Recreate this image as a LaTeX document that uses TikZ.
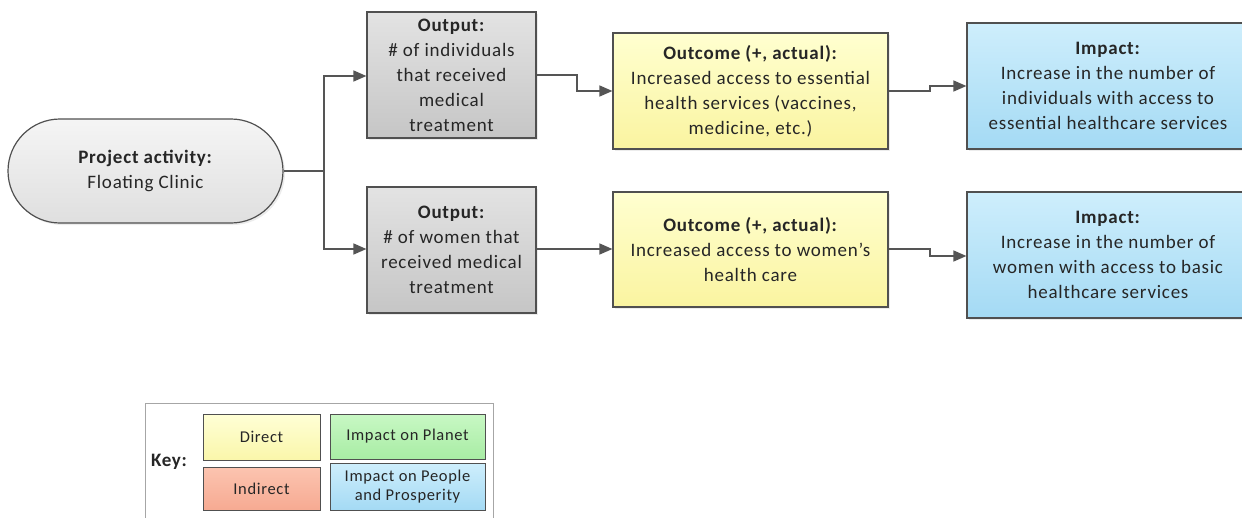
\documentclass[tikz,border=0pt]{standalone}
\usepackage{fontspec}
\setmainfont{Carlito}[LetterSpace=4]
\usetikzlibrary{arrows.meta,shadows}
\definecolor{linec}{HTML}{555555}
\definecolor{edgec}{HTML}{505050}
\tikzset{
  box/.style={draw=edgec, line width=1.2pt, align=center, inner sep=2pt,
    font=\fontsize{19}{25}\selectfont, text=black!85,
    drop shadow={opacity=0.15, shadow xshift=2pt, shadow yshift=-2pt}},
  graybox/.style={box, top color=gray!22, bottom color=gray!45, minimum width=169pt, minimum height=126pt},
  yellowbox/.style={box, top color={rgb,255:red,255;green,255;blue,208}, bottom color={rgb,255:red,250;green,244;blue,160}, minimum width=275pt, minimum height=116pt},
  bluebox/.style={box, top color={rgb,255:red,206;green,238;blue,252}, bottom color={rgb,255:red,164;green,218;blue,244}, minimum width=282pt, minimum height=126pt},
  pill/.style={box, rounded corners=52pt, top color=gray!8, bottom color=gray!25, minimum width=275pt, minimum height=104pt},
  conn/.style={draw=linec, line width=1.5pt, -{Triangle[length=13pt,width=11pt]}},
  plain/.style={draw=linec, line width=1.5pt},
  keybox/.style={draw=edgec, line width=1pt, align=center, font=\fontsize{16.5}{19}\selectfont, text=black!85},
}
\begin{document}
\begin{tikzpicture}[x=1pt,y=-1pt]
\useasboundingbox (0,0) rectangle (1242,517);
\clip (0,0) rectangle (1242,517);
% nodes
\node[pill] (act) at (145.5,171) {\textbf{Project activity:}\\Floating Clinic};
\node[graybox] (out1) at (451.5,75) {\textbf{Output:}\\\# of individuals\\that received\\medical\\treatment};
\node[graybox] (out2) at (451.5,250) {\textbf{Output:}\\\# of women that\\received medical\\treatment};
\node[yellowbox] (oc1) at (750.5,91) {\textbf{Outcome (+, actual):}\\Increased access to essential\\health services (vaccines,\\medicine, etc.)};
\node[yellowbox, minimum height=115pt] (oc2) at (750.5,249.5) {\textbf{Outcome (+, actual):}\\Increased access to women’s\\health care};
\node[bluebox] (im1) at (1108,86) {\textbf{Impact:}\\Increase in the number of\\individuals with access to\\essential healthcare services};
\node[bluebox] (im2) at (1108,255) {\textbf{Impact:}\\Increase in the number of\\women with access to basic\\healthcare services};
% connectors
\coordinate (br) at (324,171);
\draw[plain] (act.east) -- (br);
\draw[conn] (br) |- (out1.west |- 0,76);
\draw[conn] (br) |- (out2.west |- 0,249);
\draw[conn] (out1.east |- 0,75) -- (577,75) -- (577,91) -- (oc1.west);
\draw[conn] (out2.east |- 0,249) -- (oc2.west |- 0,249);
\draw[conn] (oc1.east) -- (930,91) -- (930,86) -- (im1.west);
\draw[conn] (oc2.east |- 0,249) -- (930,249) -- (930,256) -- (im2.west |- 0,256);
% key
\node[draw=gray!70, line width=1pt, minimum width=348pt, minimum height=130pt, anchor=north west, fill=white] (keyframe) at (145,403) {};
\node[font=\fontsize{19}{21}\selectfont\bfseries, text=black!85] (keylbl) at (169,462) {Key:};
\node[keybox, top color={rgb,255:red,255;green,255;blue,214}, bottom color={rgb,255:red,250;green,246;blue,170}, minimum width=117pt, minimum height=46pt] (kd) at (261.5,437) {Direct};
\node[keybox, top color={rgb,255:red,252;green,196;blue,176}, bottom color={rgb,255:red,246;green,170;blue,146}, minimum width=117pt, minimum height=43pt] (ki) at (261.5,488.5) {Indirect};
\node[keybox, top color={rgb,255:red,200;green,248;blue,196}, bottom color={rgb,255:red,168;green,236;blue,164}, minimum width=155pt, minimum height=45pt] (kp) at (407.5,436.5) {Impact on Planet};
\node[keybox, top color={rgb,255:red,206;green,238;blue,252}, bottom color={rgb,255:red,164;green,218;blue,244}, minimum width=155pt, minimum height=47pt] (kpp) at (407.5,486.5) {Impact on People\\and Prosperity};
\end{tikzpicture}
\end{document}
